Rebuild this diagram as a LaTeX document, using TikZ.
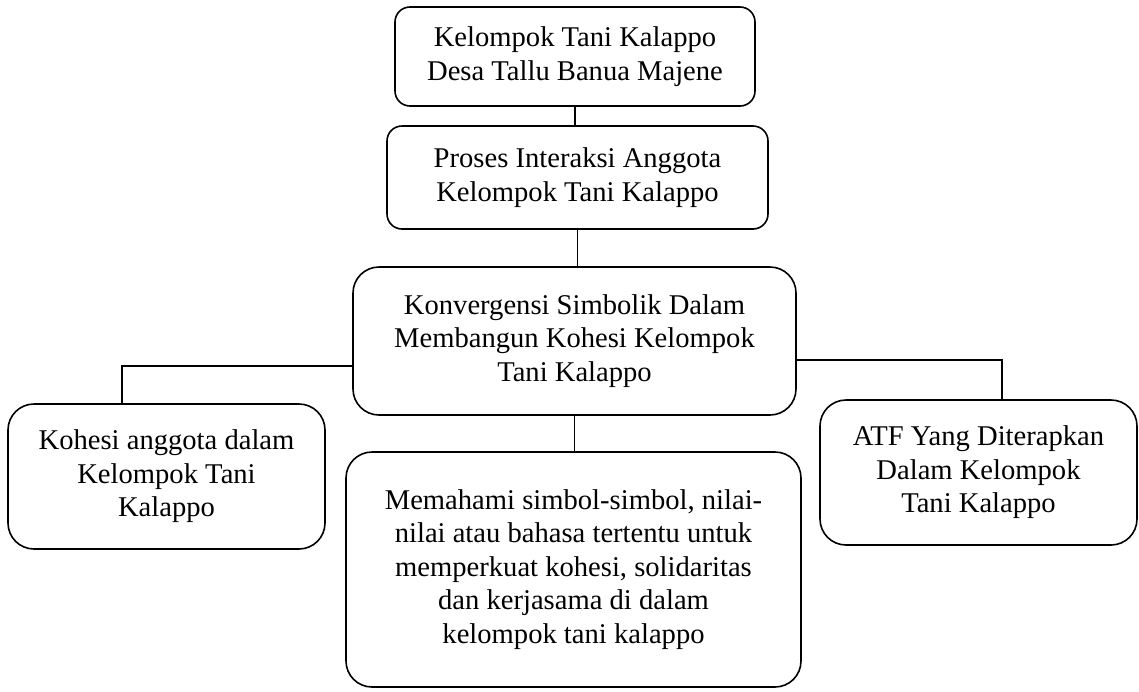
\documentclass[tikz,border=0pt]{standalone}
\usepackage{fontspec}
\setmainfont{Liberation Serif}
\begin{document}
\begin{tikzpicture}[x=0.5pt,y=-0.5pt,
  box/.style={draw, line width=0.8pt, inner sep=0pt, align=center,
    font=\fontsize{14.3pt}{16.7pt}\selectfont},
  link/.style={line width=0.8pt}]
\useasboundingbox (0,0) rectangle (1139,691);
\node[box, rounded corners=7.5pt, minimum width=180pt, minimum height=49.5pt] (b1) at (575,56.5)
  {Kelompok Tani Kalappo\\Desa Tallu Banua Majene};
\node[box, rounded corners=7.5pt, minimum width=190.5pt, minimum height=51.5pt] (b2) at (577.5,177.5)
  {Proses Interaksi Anggota\\Kelompok Tani Kalappo};
\node[box, rounded corners=13pt, minimum width=221.5pt, minimum height=74pt] (b3) at (574.5,341)
  {Konvergensi Simbolik Dalam\\Membangun Kohesi Kelompok\\Tani Kalappo};
\node[box, rounded corners=13pt, minimum width=158.5pt, minimum height=72.5pt] (b4) at (166.5,476.5)
  {Kohesi anggota dalam\\Kelompok Tani\\Kalappo};
\node[box, rounded corners=13pt, minimum width=227.5pt, minimum height=117.5pt] (b5) at (573.5,569.5)
  {Memahami simbol-simbol, nilai-\\nilai atau bahasa tertentu untuk\\memperkuat kohesi, solidaritas\\dan kerjasama di dalam\\kelompok tani kalappo};
\node[box, rounded corners=13pt, minimum width=158.5pt, minimum height=72.5pt] (b6) at (978.5,472.5)
  {ATF Yang Diterapkan\\Dalam Kelompok\\Tani Kalappo};
\coordinate (lj) at (122,366);
\coordinate (rj) at (1002,360);
\draw[link] (b1.south) -- (b1.south |- b2.north);
\draw[link] (b2.south) -- (b2.south |- b3.north);
\draw[link] (b3.west |- lj) -| (lj |- b4.north);
\draw[link] (b3.east |- rj) -| (rj |- b6.north);
\draw[link] (b3.south) -- (b3.south |- b5.north);
\end{tikzpicture}
\end{document}
